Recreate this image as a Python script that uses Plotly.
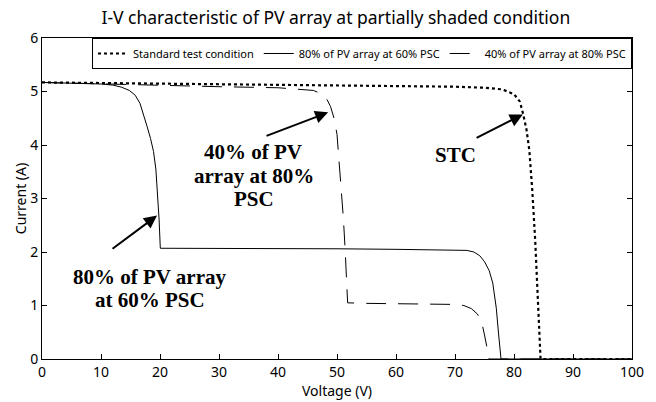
import plotly.graph_objects as go

# ---- data ----
stc_v = [0, 10, 20, 30, 40, 50, 60, 70, 75, 78, 80, 81, 81.5, 82.1, 82.6, 83.1, 83.6, 84.0, 84.3, 84.5, 90, 100]
stc_i = [5.17, 5.16, 5.15, 5.14, 5.13, 5.12, 5.11, 5.09, 5.07, 5.04, 4.95, 4.81, 4.6, 4.3, 3.9, 3.15, 2.2, 1.15, 0.5, 0, 0, 0]

p80_v = [0, 5, 10, 12, 13.5, 14.8, 15.8, 16.6, 17.2, 17.8, 18.4, 18.9, 19.3, 19.6, 19.85, 20.05,
         30, 40, 50, 60, 70, 72, 73.2, 74.2, 75.0, 75.8, 76.4, 77.0, 77.4, 77.8, 100]
p80_i = [5.17, 5.16, 5.14, 5.12, 5.08, 5.02, 4.93, 4.78, 4.58, 4.35, 4.12, 3.88, 3.55, 3.1, 2.6, 2.07,
         2.07, 2.06, 2.06, 2.05, 2.04, 2.03, 2.0, 1.93, 1.82, 1.65, 1.42, 0.95, 0.45, 0, 0]

p40_v = [0, 10, 20, 30, 40, 44, 46, 47.3, 48.3, 48.9, 49.5, 50.0, 50.4, 50.8, 51.1, 51.4, 51.6, 51.8,
         55, 70, 71.5, 72.8, 73.8, 74.5, 75.0, 75.4, 75.8, 100]
p40_i = [5.17, 5.14, 5.11, 5.09, 5.07, 5.04, 5.02, 4.96, 4.85, 4.72, 4.5, 4.2, 3.65, 3.1, 2.6, 2.0, 1.5, 1.05,
         1.04, 1.02, 1.0, 0.94, 0.84, 0.7, 0.45, 0.22, 0, 0]

series_names = ["Standard test condition", "80% of PV array at 60% PSC", "40% of PV array at 80% PSC"]

x_ticks = [0, 10, 20, 30, 40, 50, 60, 70, 80, 90, 100]
y_ticks = [0, 1, 2, 3, 4, 5, 6]

title_text = "I-V characteristic of PV array at partially shaded condition"

FONT = "Noto Sans"

fig = go.Figure()
fig.add_trace(go.Scatter(x=stc_v, y=stc_i, mode="lines", name=series_names[0],
                         line=dict(color="black", width=2.2, dash="dot")))
fig.add_trace(go.Scatter(x=p80_v, y=p80_i, mode="lines", name=series_names[1],
                         line=dict(color="black", width=1)))
fig.add_trace(go.Scatter(x=p40_v, y=p40_i, mode="lines", name=series_names[2],
                         line=dict(color="black", width=1, dash="20px,12px")))

# arrows: (head_x, head_y, tail_x, tail_y)
arrows = [
    (19.5, 2.68, 11.7, 2.04),
    (48.5, 4.61, 37.8, 4.16),
    (81.5, 4.57, 73.4, 4.12),
]
for hx, hy, tx, ty in arrows:
    fig.add_annotation(x=hx, y=hy, ax=tx, ay=ty, xref="x", yref="y", axref="x", ayref="y",
                       text="", showarrow=True, arrowhead=2, arrowsize=1.3, arrowwidth=2,
                       arrowcolor="black")

labels = [
    ("80% of PV array", 18.3, 1.54),
    ("at 60% PSC", 18.3, 1.10),
    ("40% of PV", 35.8, 3.86),
    ("array at 80%", 35.9, 3.43),
    ("PSC", 35.9, 3.00),
    ("STC", 70.0, 3.82),
]
for t, lx, ly in labels:
    fig.add_annotation(x=lx, y=ly, xref="x", yref="y", text="<b>%s</b>" % t, showarrow=False,
                       font=dict(family="Liberation Serif", size=21, color="black"))

axis_common = dict(showline=True, linecolor="black", linewidth=1, mirror="ticks",
                   ticks="inside", ticklen=5, tickcolor="black", showgrid=False, zeroline=False,
                   tickfont=dict(family=FONT, size=14, color="black"))

fig.update_xaxes(range=[0, 100], tickvals=x_ticks, title=dict(text="Voltage (V)", standoff=2,
                 font=dict(family=FONT, size=14, color="black")), **axis_common)
fig.update_yaxes(range=[0, 6], tickvals=y_ticks, title=dict(text="Current (A)", standoff=0,
                 font=dict(family=FONT, size=14, color="black")), **axis_common)

fig.update_layout(
    width=656, height=402,
    margin=dict(l=42, r=24, t=38, b=43, autoexpand=False),
    paper_bgcolor="white", plot_bgcolor="white",
    title=dict(text=title_text, x=0.512, xanchor="center", y=0.955, yanchor="middle",
               font=dict(family=FONT, size=17.5, color="black")),
    legend=dict(orientation="h", x=1, xanchor="right", y=1, yanchor="top",
                bgcolor="white", bordercolor="black", borderwidth=1,
                font=dict(family=FONT, size=11, color="black"), itemwidth=30,
                tracegroupgap=0),
    showlegend=True,
)

fig.write_html("out.html", config={"displayModeBar": False},
               post_script="document.body.style.margin='0';document.body.style.overflow='hidden';")
